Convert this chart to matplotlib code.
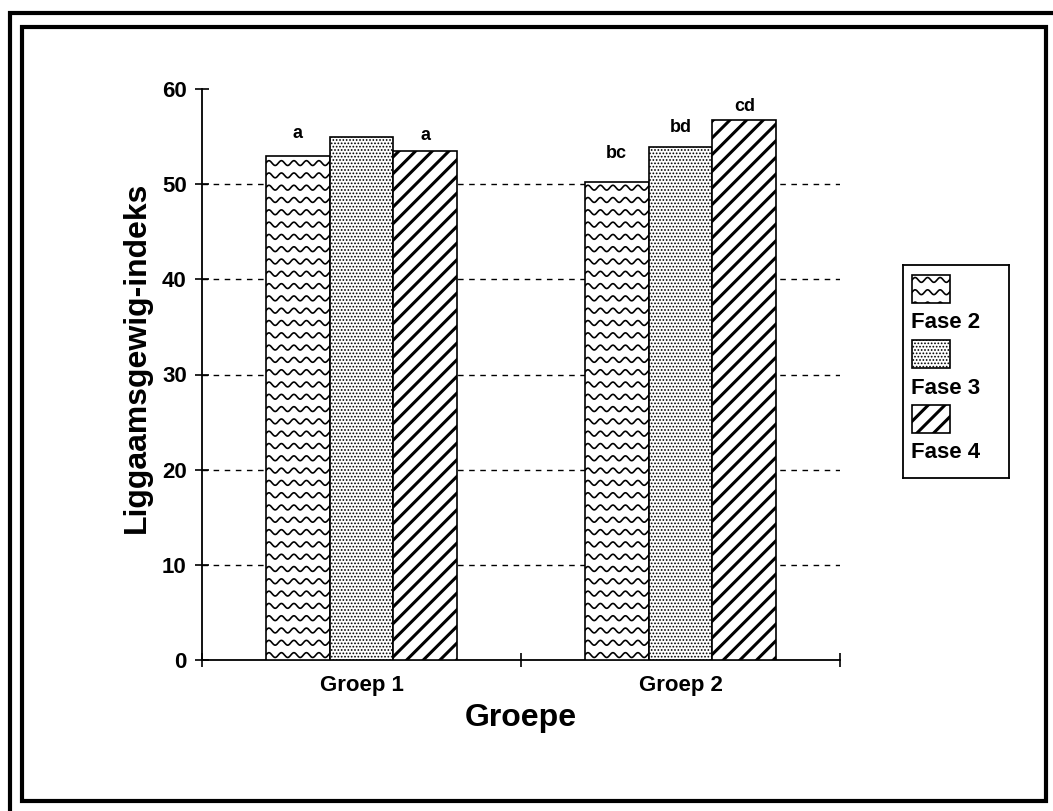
import matplotlib
matplotlib.use('Agg')
import matplotlib.pyplot as plt
import numpy as np
from matplotlib.patches import Rectangle

plt.rcParams['font.family'] = ['Liberation Sans', 'DejaVu Sans']
plt.rcParams['font.weight'] = 'bold'

groups = ['Groep 1', 'Groep 2']
phases = ['Fase 2', 'Fase 3', 'Fase 4']
fase2 = [53.0, 50.2]
fase3 = [55.0, 53.9]
fase4 = [53.5, 56.7]
# significance letters per group, one per phase ('' = none)
letters = [['a', '', 'a'], ['bc', 'bd', 'cd']]
letter_pad = [[14, 0, 7], [20, 11, 5]]   # pixels above the bar top

W, H = 1053, 811


def px(x, y):
    """pixel position (top-left origin) -> figure fraction"""
    return x / W, 1 - y / H


def waves(ax, patch, period, gap, amp, lw=1.2):
    """draw rows of wavy lines clipped to a rectangle patch"""
    x0, y0 = patch.get_x(), patch.get_y()
    w, h = patch.get_width(), patch.get_height()
    lo, hi = min(y0, y0 + h), max(y0, y0 + h)
    xs = np.linspace(x0, x0 + w, 300)
    yc = lo + gap * 0.4
    while yc < hi + gap:
        ys = yc + amp * np.sin(2 * np.pi * (xs - x0) / period)
        ln, = ax.plot(xs, ys, color='k', lw=lw, zorder=patch.get_zorder() + 0.1)
        ln.set_clip_path(patch)
        yc += gap


def set_hatch_lw(p, lw):
    if hasattr(p, 'set_hatch_linewidth'):
        p.set_hatch_linewidth(lw)


fig = plt.figure(figsize=(W / 100, H / 100), dpi=100)

# double border round the chart
x0, y0 = px(10, 13)
fig.add_artist(Rectangle((x0, -0.1), 1.2, y0 + 0.1, transform=fig.transFigure,
                         fill=False, lw=3, ec='k'))
x0, y0 = px(22, 27)
x1, y1 = px(1046, 801)
fig.add_artist(Rectangle((x0, y1), x1 - x0, y0 - y1, transform=fig.transFigure,
                         fill=False, lw=3, ec='k'))

ax = fig.add_axes([202 / W, 1 - 660 / H, 638 / W, 571 / H])

x = np.arange(len(groups))
bw = 0.2
series = [fase2, fase3, fase4]
offsets = [-bw, 0, bw]
bars = []
for i, vals in enumerate(series):
    b = ax.bar(x + offsets[i], vals, bw, color='white', edgecolor='k', lw=1.2, zorder=3)
    bars.append(b)

# wave texture for Fase 2
sx = 638 / 2.0      # px per x unit
sy = 571 / 60.0     # px per y unit
for p in bars[0]:
    waves(ax, p, 12.5 / sx, 12.3 / sy, 2.4 / sy)
# fine dots for Fase 3
for p in bars[1]:
    p.set_hatch('.....')
    set_hatch_lw(p, 0.8)
# diagonal stripes for Fase 4
for p in bars[2]:
    p.set_hatch('//')
    set_hatch_lw(p, 2.2)

for gi in range(len(groups)):
    for si in range(len(series)):
        txt = letters[gi][si]
        if not txt:
            continue
        val = series[si][gi]
        ax.annotate(txt, (x[gi] + offsets[si], val), xytext=(0, letter_pad[gi][si] * 0.72),
                    textcoords='offset points', ha='center', va='bottom',
                    fontsize=13, fontweight='bold')

ax.set_xlim(-0.5, 1.5)
ax.set_ylim(0, 60)
ax.set_yticks(np.arange(0, 61, 10))
ax.set_xticks([-0.5, 0.5, 1.5])
ax.set_xticklabels([])
ax.set_xticks(x, minor=True)
ax.set_xticklabels(groups, minor=True)
ax.tick_params(axis='x', which='minor', length=0, pad=11, labelsize=16)
ax.tick_params(axis='x', which='major', direction='inout', length=10, width=1.2)
ax.tick_params(axis='y', direction='inout', length=10, width=1.2, labelsize=16, pad=6)

ax.spines['top'].set_visible(False)
ax.spines['right'].set_visible(False)
for s in ['left', 'bottom']:
    ax.spines[s].set_linewidth(1.3)

for v in range(10, 60, 10):
    ax.axhline(v, color='k', lw=1.0, ls=(0, (4, 4)), zorder=1)

ax.set_ylabel('Liggaamsgewig-indeks', fontsize=23, fontweight='bold')
ax.yaxis.set_label_coords(-0.078, 0.53)
ax.set_xlabel('Groepe', fontsize=23, fontweight='bold', labelpad=5)

# legend box: swatch with the phase name underneath
lax = fig.add_axes([903 / W, 1 - 478 / H, 106 / W, 213 / H])
lax.set_xlim(903, 1009)
lax.set_ylim(478, 265)
lax.set_xticks([])
lax.set_yticks([])
for s in lax.spines.values():
    s.set_linewidth(1.3)

sw_top = [275, 340, 405]
for i, name in enumerate(phases):
    r = Rectangle((912, sw_top[i]), 38, 28, facecolor='white', edgecolor='k', lw=1.2)
    lax.add_patch(r)
    if i == 0:
        waves(lax, r, 12.5, 12.3, -2.4)
    elif i == 1:
        r.set_hatch('.....')
        set_hatch_lw(r, 0.8)
    else:
        r.set_hatch('//')
        set_hatch_lw(r, 2.2)
    lax.text(911, sw_top[i] + 48, name, fontsize=16, fontweight='bold', va='center', ha='left')

fig.savefig('out.png', dpi=100)
